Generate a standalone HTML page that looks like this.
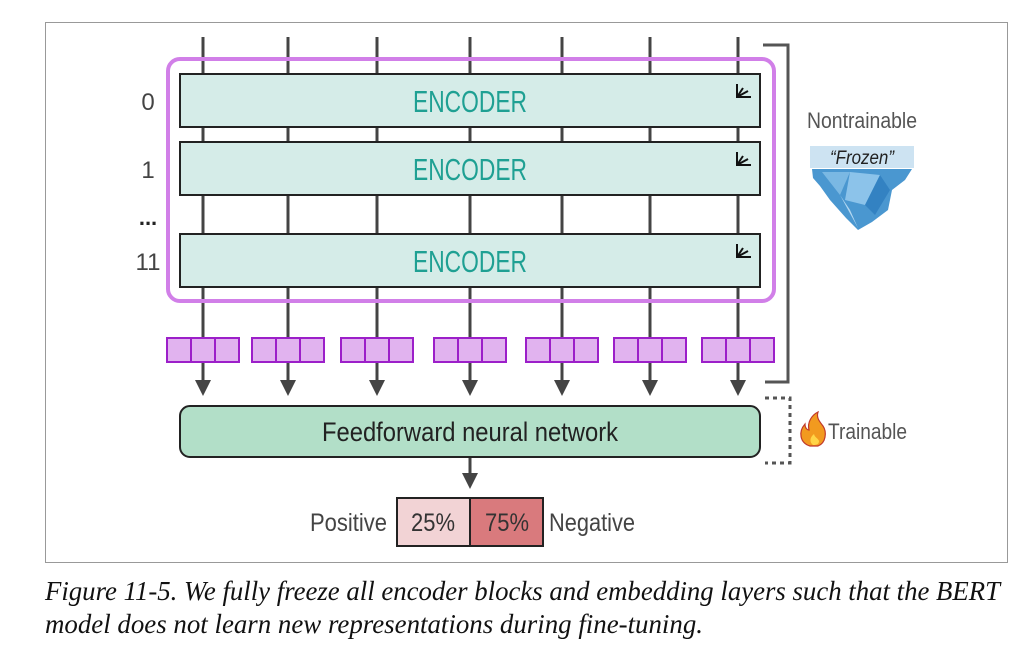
<!DOCTYPE html>
<html><head><meta charset="utf-8"><style>
html,body{margin:0;padding:0;background:#fff;width:1034px;height:656px;overflow:hidden}
svg{display:block}
</style></head><body>
<svg width="1034" height="656" viewBox="0 0 1034 656" xmlns="http://www.w3.org/2000/svg" font-family="'Liberation Sans', sans-serif">
<rect x="45.5" y="22.5" width="962" height="540" fill="#fff" stroke="#999" stroke-width="1"/>
<g stroke="#444" stroke-width="3">
<line x1="203" y1="37" x2="203" y2="382"/><line x1="288" y1="37" x2="288" y2="382"/><line x1="377" y1="37" x2="377" y2="382"/><line x1="470" y1="37" x2="470" y2="382"/><line x1="562" y1="37" x2="562" y2="382"/><line x1="650" y1="37" x2="650" y2="382"/><line x1="738" y1="37" x2="738" y2="382"/>
<line x1="470" y1="457" x2="470" y2="475"/>
</g>
<g fill="#444">
<polygon points="195,380 211,380 203,396"/><polygon points="280,380 296,380 288,396"/><polygon points="369,380 385,380 377,396"/><polygon points="462,380 478,380 470,396"/><polygon points="554,380 570,380 562,396"/><polygon points="642,380 658,380 650,396"/><polygon points="730,380 746,380 738,396"/>
<polygon points="462,473 478,473 470,489"/>
</g>
<rect x="168" y="59" width="606" height="242" rx="12" fill="none" stroke="#d17fe8" stroke-width="4"/>
<g stroke="#222" stroke-width="2" fill="#d5ece8">
<rect x="180" y="74" width="580" height="53"/><rect x="180" y="142" width="580" height="53"/><rect x="180" y="234" width="580" height="53"/>
</g>
<g fill="#1fa093" font-size="31" text-anchor="middle">
<text x="470" y="112" textLength="114" lengthAdjust="spacingAndGlyphs">ENCODER</text>
<text x="470" y="180" textLength="114" lengthAdjust="spacingAndGlyphs">ENCODER</text>
<text x="470" y="272" textLength="114" lengthAdjust="spacingAndGlyphs">ENCODER</text>
</g>
<g stroke="#111" stroke-width="2" fill="none">
<path d="M737,84 v13 h14 M737,97 l6,-9 M737,97 l11,-6"/>
<path d="M737,152 v13 h14 M737,165 l6,-9 M737,165 l11,-6"/>
<path d="M737,244 v13 h14 M737,257 l6,-9 M737,257 l11,-6"/>
</g>
<g fill="#444" font-size="24" text-anchor="middle">
<text x="148" y="110">0</text><text x="148" y="178">1</text><text x="148" y="270">11</text>
</g>
<text x="148" y="225" font-size="22" font-weight="bold" text-anchor="middle" fill="#222">...</text>
<path d="M763,45 H788 V382 H765" fill="none" stroke="#555" stroke-width="3"/>
<text x="862" y="128" font-size="22" fill="#555" text-anchor="middle" textLength="110" lengthAdjust="spacingAndGlyphs">Nontrainable</text>
<polygon points="812,169 912,169 905,180 892,190 888,210 872,222 858,230 846,218 830,200 820,186 813,178" fill="#4a97d0"/>
<polygon points="822,172 850,172 840,195" fill="#7ab8e3"/>
<polygon points="850,172 880,175 865,205 845,200" fill="#8cc3ea"/>
<polygon points="865,205 880,175 890,190 875,215" fill="#3382c2"/>
<polygon points="840,195 858,228 850,210" fill="#b4d8f2"/>
<rect x="810" y="146" width="104" height="22" fill="#cde3f2"/>
<text x="862" y="164" font-size="19" font-style="italic" fill="#222" text-anchor="middle" textLength="64" lengthAdjust="spacingAndGlyphs">“Frozen”</text>
<g stroke="#9c1fc9" stroke-width="2" fill="#e1b3ef">
<g transform="translate(167,338)"><rect width="24" height="24"/><rect x="24" width="24" height="24"/><rect x="48" width="24" height="24"/></g>
<g transform="translate(252,338)"><rect width="24" height="24"/><rect x="24" width="24" height="24"/><rect x="48" width="24" height="24"/></g>
<g transform="translate(341,338)"><rect width="24" height="24"/><rect x="24" width="24" height="24"/><rect x="48" width="24" height="24"/></g>
<g transform="translate(434,338)"><rect width="24" height="24"/><rect x="24" width="24" height="24"/><rect x="48" width="24" height="24"/></g>
<g transform="translate(526,338)"><rect width="24" height="24"/><rect x="24" width="24" height="24"/><rect x="48" width="24" height="24"/></g>
<g transform="translate(614,338)"><rect width="24" height="24"/><rect x="24" width="24" height="24"/><rect x="48" width="24" height="24"/></g>
<g transform="translate(702,338)"><rect width="24" height="24"/><rect x="24" width="24" height="24"/><rect x="48" width="24" height="24"/></g>
</g>
<rect x="180" y="406" width="580" height="51" rx="10" fill="#b2dfc8" stroke="#222" stroke-width="2"/>
<text x="470" y="441" font-size="27" fill="#222" text-anchor="middle" textLength="296" lengthAdjust="spacingAndGlyphs">Feedforward neural network</text>
<path d="M765,398 H790 V463 H765" fill="none" stroke="#555" stroke-width="3" stroke-dasharray="4,4"/>
<path d="M810,446 c-10,-3 -12,-14 -5,-22 c0,5 3,6 4,6 c-2,-8 3,-15 9,-18 c-2,6 2,10 5,14 c4,6 3,17 -5,20 z" fill="#f29a1f" stroke="#c0392b" stroke-width="1.2"/>
<path d="M813,445 c-4,-3 -3,-8 1,-11 c1,4 4,4 5,7 c0,3 -2,4 -6,4z" fill="#ffd447"/>
<text x="828" y="439" font-size="22" fill="#555" textLength="79" lengthAdjust="spacingAndGlyphs">Trainable</text>
<rect x="397" y="498" width="73" height="48" fill="#f2d3d5" stroke="#222" stroke-width="2"/>
<rect x="470" y="498" width="73" height="48" fill="#d97a7d" stroke="#222" stroke-width="2"/>
<g font-size="25" fill="#333">
<text x="433" y="531" text-anchor="middle" textLength="44" lengthAdjust="spacingAndGlyphs">25%</text><text x="507" y="531" text-anchor="middle" textLength="44" lengthAdjust="spacingAndGlyphs">75%</text>
<text x="387" y="531" text-anchor="end" fill="#444" textLength="77" lengthAdjust="spacingAndGlyphs">Positive</text>
<text x="549" y="531" fill="#444" textLength="86" lengthAdjust="spacingAndGlyphs">Negative</text>
</g>
<g font-family="'Liberation Serif', serif" font-style="italic" font-size="27" fill="#111">
<text x="45" y="600" textLength="955" lengthAdjust="spacingAndGlyphs">Figure 11-5. We fully freeze all encoder blocks and embedding layers such that the BERT</text>
<text x="45" y="633" textLength="658" lengthAdjust="spacingAndGlyphs">model does not learn new representations during fine-tuning.</text>
</g>
</svg>
</body></html>
